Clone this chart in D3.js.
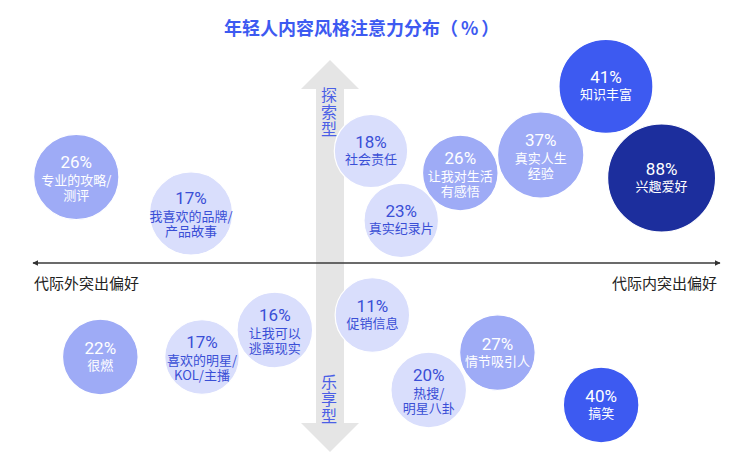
<!DOCTYPE html>
<html>
<head>
<meta charset="utf-8">
<script src="https://cdn.jsdelivr.net/npm/d3@7"></script>
<style>
    body { margin: 0; background: #fff; }
    #chart-area { width: 750px; height: 453px; }
    text { font-family: "Noto Sans CJK SC", "Noto Sans", sans-serif; }
</style>
</head>
<body>
<div id="chart-area"></div>
<script>

// chart data (x: intergenerational preference score, y: explore(+) / enjoy(-) score)
const percents = [26, 17, 18, 23, 26, 37, 41, 88, 22, 17, 16, 11, 20, 27, 40];
const labels = [
    ["专业的攻略/", "测评"],
    ["我喜欢的品牌/", "产品故事"],
    ["社会责任"],
    ["真实纪录片"],
    ["让我对生活", "有感悟"],
    ["真实人生", "经验"],
    ["知识丰富"],
    ["兴趣爱好"],
    ["很燃"],
    ["喜欢的明星/", "KOL/主播"],
    ["让我可以", "逃离现实"],
    ["促销信息"],
    ["热搜/", "明星八卦"],
    ["情节吸引人"],
    ["搞笑"]
];
const xScores = [6.3, 23.0, 49.2, 53.6, 62.2, 73.9, 83.4, 91.5, 9.8, 24.6, 35.2, 49.4, 57.6, 67.6, 82.7];
const yScores = [43, 24.8, 56, 21.3, 45, 54, 88.3, 42.5, -47, -47, -33.5, -26, -63.5, -44.8, -71];
const sizes = [79, 77, 68, 69, 70, 80, 87, 100, 70, 69, 70, 69, 70, 70, 70];
const levels = [1, 0, 0, 0, 1, 1, 2, 3, 1, 0, 0, 0, 0, 1, 2];

const chartTitle = "年轻人内容风格注意力分布";
const titleUnit = ["（", "%", "）"];
const axisLeftLabel = "代际外突出偏好";
const axisRightLabel = "代际内突出偏好";
const topLabel = "探索型";
const bottomLabel = "乐享型";


class BubbleQuadrant {

    constructor(parentElement) {
        this.parentElement = parentElement;
        this.displayData = percents.map((p, i) => ({
            value: p,
            label: labels[i],
            x: xScores[i],
            y: yScores[i],
            size: sizes[i],
            level: levels[i]
        }));

        this.initVis();
    }

    initVis() {
        let vis = this;

        vis.width = 750;
        vis.height = 453;

        vis.svg = d3.select("#" + vis.parentElement).append("svg")
            .attr("width", vis.width)
            .attr("height", vis.height);

        vis.x = d3.scaleLinear().domain([0, 100]).range([33, 720]);
        vis.y = d3.scaleLinear().domain([-100, 100]).range([463, 63]);
        vis.r = d3.scaleLinear().domain([0, 100]).range([0, 54]);

        vis.fill = d3.scaleOrdinal()
            .domain([0, 1, 2, 3])
            .range(["#d9defc", "#9eabf6", "#3d5af1", "#1c2e9d"]);
        vis.textColor = d3.scaleOrdinal()
            .domain([0, 1, 2, 3])
            .range(["#3a4fd6", "#ffffff", "#ffffff", "#ffffff"]);

        // title
        let title = vis.svg.append("text")
            .attr("x", 224)
            .attr("y", 35)
            .attr("fill", "#3d5af1")
            .attr("font-size", 18)
            .attr("font-weight", "bold")
            .text(chartTitle);
        title.append("tspan").text(titleUnit[0]);
        title.append("tspan").attr("dx", 3).text(titleUnit[1]);
        title.append("tspan").attr("dx", 3).text(titleUnit[2]);

        // vertical double arrow
        let cx = 330, sw = 14, hw = 29;
        let top = 60, topBase = 89, bot = 452, botBase = 423;
        vis.svg.append("path")
            .attr("fill", "#e5e5e5")
            .attr("d", d3.line()([
                [cx, top], [cx + hw, topBase], [cx + sw, topBase], [cx + sw, botBase],
                [cx + hw, botBase], [cx, bot], [cx - hw, botBase], [cx - sw, botBase],
                [cx - sw, topBase], [cx - hw, topBase]
            ]) + "Z");

        // vertical labels, one text each
        [[topLabel, 87], [bottomLabel, 374]].forEach(([txt, y0]) => {
            vis.svg.append("text")
                .attr("x", cx - 1)
                .attr("y", y0)
                .attr("fill", "#4b5fe6")
                .attr("font-size", 16)
                .style("writing-mode", "vertical-rl")
                .style("text-orientation", "upright")
                .style("letter-spacing", "1px")
                .text(txt);
        });

        // horizontal axis with arrows on both ends
        let defs = vis.svg.append("defs");
        defs.append("marker")
            .attr("id", "arrow-end")
            .attr("viewBox", "0 0 10 10")
            .attr("refX", 9).attr("refY", 5)
            .attr("markerWidth", 6).attr("markerHeight", 6)
            .attr("markerUnits", "userSpaceOnUse")
            .attr("orient", "auto-start-reverse")
            .append("path")
            .attr("d", "M0,0L10,5L0,10Z")
            .attr("fill", "#333");

        vis.svg.append("line")
            .attr("x1", vis.x(0))
            .attr("x2", vis.x(100))
            .attr("y1", vis.y(0))
            .attr("y2", vis.y(0))
            .attr("stroke", "#3a3a3a")
            .attr("stroke-width", 1.6)
            .attr("marker-start", "url(#arrow-end)")
            .attr("marker-end", "url(#arrow-end)");

        vis.svg.append("text")
            .attr("x", 34)
            .attr("y", 289)
            .attr("fill", "#222")
            .attr("font-size", 15)
            .text(axisLeftLabel);

        vis.svg.append("text")
            .attr("x", 717)
            .attr("y", 289)
            .attr("text-anchor", "end")
            .attr("fill", "#222")
            .attr("font-size", 15)
            .text(axisRightLabel);

        vis.updateVis();
    }

    updateVis() {
        let vis = this;

        let bubbles = vis.svg.selectAll(".bubble")
            .data(vis.displayData)
            .enter().append("g")
            .attr("class", "bubble")
            .attr("transform", d => `translate(${vis.x(d.x)}, ${vis.y(d.y)})`);

        bubbles.append("circle")
            .attr("r", d => vis.r(d.size))
            .attr("fill", d => vis.fill(d.level))
            .attr("stroke", "#fff")
            .attr("stroke-width", 1.2);

        // percentage + label lines in one text block
        bubbles.each(function(d) {
            let twoLines = d.label.length > 1;
            let txt = d3.select(this).append("text")
                .attr("text-anchor", "middle")
                .attr("fill", vis.textColor(d.level));

            txt.append("tspan")
                .attr("x", 0)
                .attr("y", twoLines ? -9 : -3)
                .attr("font-size", 17)
                .attr("font-family", "Roboto, 'Noto Sans', sans-serif")
                .text(d.value + "%");

            d.label.forEach((t, i) => {
                txt.append("tspan")
                    .attr("x", 0)
                    .attr("y", (twoLines ? 8 : 13) + i * 15)
                    .attr("font-size", 13)
                    .text(t);
            });
        });
    }

}

new BubbleQuadrant("chart-area");

</script>
</body>
</html>
